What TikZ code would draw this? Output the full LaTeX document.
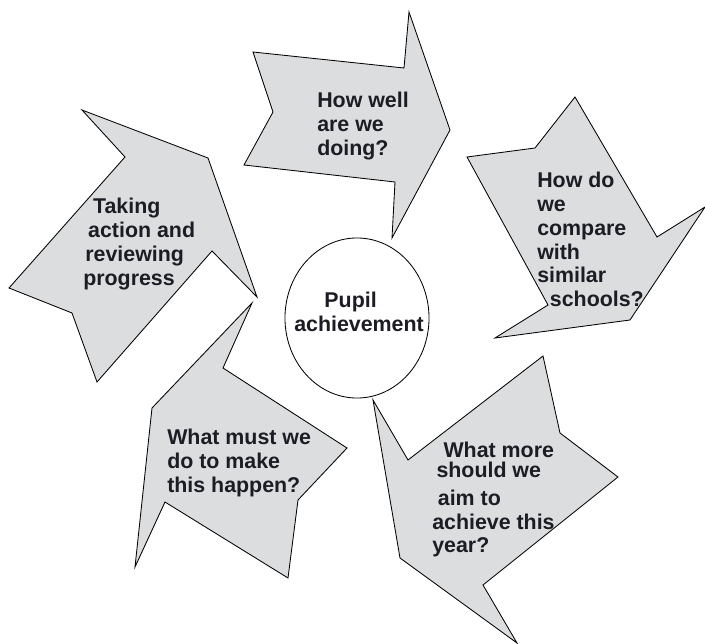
\documentclass[tikz,border=0pt]{standalone}
\usepackage{fontspec}
\setmainfont{Liberation Sans}
\usepackage{tikz}
\usetikzlibrary{shapes.geometric}
\usepackage{xcolor}
\definecolor{arrowgray}{RGB}{220,221,223}
\definecolor{inkdark}{RGB}{28,28,36}

\tikzset{
	blockarrow/.style={draw=black,fill=arrowgray,line width=0.6pt,line join=miter},
	question/.style={anchor=north west,align=left,inner sep=0pt,text=inkdark,
		font=\fontsize{15.2}{16.9}\selectfont\bfseries},
	hubring/.style={draw=black,fill=white,ellipse,line width=0.6pt,
		minimum width=3.6cm,minimum height=4cm,inner sep=0pt},
	hubtext/.style={align=center,inner sep=0pt,text=inkdark,
		font=\fontsize{15.2}{16.9}\selectfont\bfseries}
}

\begin{document}
\begin{tikzpicture}[x=0.025cm,y=-0.025cm]
		
		\useasboundingbox (0,0) rectangle (705,644);
		
		% Arrows round the cycle
		\draw[blockarrow] (253,52) -- (404,68) -- (409,12) -- (450,130) -- (392,238) -- (395,182) -- (244,165) -- (273,112) -- cycle;
		\draw[blockarrow] (467,157) -- (535,148) -- (575,97) -- (657,237) -- (705,207) -- (630,320) -- (495,338) -- (548,305) -- cycle;
		\draw[blockarrow] (373,400) -- (408,460) -- (543,356) -- (560,433) -- (618,477) -- (483,585) -- (517,643) -- (400,558) -- cycle;
		\draw[blockarrow] (252,303) -- (223,368) -- (347,448) -- (298,500) -- (288,578) -- (165,502) -- (135,567) -- (152,408) -- cycle;
		\draw[blockarrow] (82,110) -- (125,157) -- (9,288) -- (72,313) -- (97,382) -- (212,251) -- (257,297) -- (208,158) -- cycle;
		
		% Centre
		\node[hubring] (hub) at (357,318) {};
		\node[hubtext] (hublabel) at (359,312) {Pupil\hspace*{12pt}\\achievement};
		
		% Questions
		\node[question] (doing) at (317,92) {How well\\are we\\doing?};
		\node[question] (compare) at (537,172) {How do\\we\\compare\\with\\similar\\\hspace*{9pt}schools?};
		\node[question] (aim) at (432,442) {\hspace*{8pt}What more\\[-3pt]\hspace*{3pt}should we\\[3pt]\hspace*{4pt}aim to\\achieve this\\year?};
		\node[question] (happen) at (167,429) {What must we\\do to make\\this happen?};
		\node[question] (action) at (83,198) {\hspace*{7pt}Taking\\\hspace*{3.5pt}action and\\\hspace*{1.5pt}reviewing\\progress};
		
	\end{tikzpicture}
\end{document}
